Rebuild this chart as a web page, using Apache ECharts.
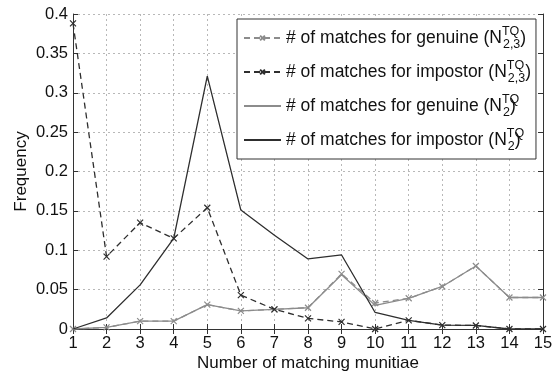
<!DOCTYPE html>
<html><head><meta charset="utf-8">
<script src="https://cdn.jsdelivr.net/npm/echarts@6/dist/echarts.min.js"></script>
<style>html,body{margin:0;padding:0;background:#fff}#c{width:552px;height:371px}</style>
</head><body><div id="c"></div>
<script>
var matches = [1,2,3,4,5,6,7,8,9,10,11,12,13,14,15];
var genuineN23 = [0.0,0.002,0.010,0.010,0.031,0.023,0.025,0.027,0.070,0.033,0.039,0.054,0.080,0.040,0.040];
var impostorN23 = [0.388,0.092,0.135,0.115,0.154,0.043,0.025,0.0135,0.009,0.0,0.011,0.005,0.0045,0.0,0.0];
var genuineN2 = [0.0,0.002,0.010,0.010,0.031,0.023,0.025,0.027,0.069,0.030,0.039,0.054,0.080,0.040,0.040];
var impostorN2 = [0.0,0.014,0.056,0.115,0.321,0.151,0.119,0.089,0.094,0.021,0.011,0.005,0.0045,0.0,0.0];
var seriesNames = ['# of matches for genuine (N2,3 TQ)','# of matches for impostor (N2,3 TQ)','# of matches for genuine (N2 TQ)','# of matches for impostor (N2 TQ)'];
var legendMain = ['# of matches for genuine (N','# of matches for impostor (N','# of matches for genuine (N','# of matches for impostor (N'];
var legendSub = ['2,3','2,3','2','2'];
var legendSup = 'TQ';

var DARK = '#2e2e2e', GRAY = '#8c8c8c';
var FONT = 'Liberation Sans, Arial, sans-serif';
var xMark = 'path://M0,0L10,10M0,10L10,0';
function pairs(v){ return v.map(function(y,i){ return [matches[i], y]; }); }

var chart = echarts.init(document.getElementById('c'), null, {renderer:'canvas'});
var axisLine = {show:true, lineStyle:{color:'#333', width:1}};
chart.setOption({
  animation:false,
  backgroundColor:'#fff',
  grid:{left:73, right:9, top:14, bottom:42, containLabel:false, outerBoundsMode:'none'},
  xAxis:[{
    type:'value', min:1, max:15, interval:1,
    axisLine:axisLine, axisTick:{show:true, inside:true, length:5, lineStyle:{color:'#333'}},
    axisLabel:{color:'#111', fontSize:16.5, fontFamily:FONT, margin:6},
    splitLine:{show:true, lineStyle:{color:'#b8b8b8', type:[2,3], width:1}},
    name:'Number of matching munitiae', nameLocation:'middle', nameGap:26, nameMoveOverlap:false,
    nameTextStyle:{color:'#111', fontSize:17, fontFamily:FONT}
  },{
    type:'value', min:1, max:15, interval:1, position:'top',
    axisLine:axisLine, axisTick:{show:true, inside:true, length:5, lineStyle:{color:'#333'}},
    axisLabel:{show:false}, splitLine:{show:false}
  }],
  yAxis:[{
    type:'value', min:0, max:0.4, interval:0.05,
    axisLine:axisLine, axisTick:{show:true, inside:true, length:5, lineStyle:{color:'#333'}},
    axisLabel:{color:'#111', fontSize:16.5, fontFamily:FONT, margin:5},
    splitLine:{show:true, lineStyle:{color:'#b8b8b8', type:[2,3], width:1}},
    name:'Frequency', nameLocation:'middle', nameGap:43, nameRotate:90, nameMoveOverlap:false,
    nameTextStyle:{color:'#111', fontSize:17, fontFamily:FONT}
  },{
    type:'value', min:0, max:0.4, interval:0.05, position:'right',
    axisLine:axisLine, axisTick:{show:true, inside:true, length:5, lineStyle:{color:'#333'}},
    axisLabel:{show:false}, splitLine:{show:false}
  }],
  legend:{
    orient:'vertical', left:237, top:19,
    padding:[6,5,6,6], itemGap:8, itemWidth:37, itemHeight:6,
    borderColor:'#333', borderWidth:1, backgroundColor:'#fff',
    data:[
      {name:seriesNames[0]},
      {name:seriesNames[1]},
      {name:seriesNames[2], itemStyle:{color:'transparent', borderWidth:0}},
      {name:seriesNames[3], itemStyle:{color:'transparent', borderWidth:0}}
    ],
    formatter:function(name){
      var i = seriesNames.indexOf(name);
      return '{m|' + legendMain[i] + '}{sup|' + legendSup + '}{sub|' + legendSub[i] + '}{m|)}';
    },
    textStyle:{
      color:'#111', fontFamily:FONT, fontSize:17.5,
      rich:{
        m:{fontSize:17.5, fontFamily:FONT, color:'#111', lineHeight:26, verticalAlign:'middle'},
        sup:{fontSize:12.5, fontFamily:FONT, color:'#111', lineHeight:13, verticalAlign:'top', width:1},
        sub:{fontSize:12.5, fontFamily:FONT, color:'#111', lineHeight:13, verticalAlign:'bottom'}
      }
    }
  },
  series:[
    {name:seriesNames[0], type:'line', data:pairs(genuineN23), symbol:xMark, symbolSize:6, showSymbol:true,
     lineStyle:{color:GRAY, width:1.3, type:[6,4]}, itemStyle:{color:'transparent', borderColor:GRAY, borderWidth:1.2}, z:2},
    {name:seriesNames[1], type:'line', data:pairs(impostorN23), symbol:xMark, symbolSize:6, showSymbol:true,
     lineStyle:{color:DARK, width:1.3, type:[6,4]}, itemStyle:{color:'transparent', borderColor:DARK, borderWidth:1.2}, z:3},
    {name:seriesNames[2], type:'line', data:pairs(genuineN2), symbol:'circle', symbolSize:2, showSymbol:true,
     lineStyle:{color:GRAY, width:1.3}, itemStyle:{color:GRAY}, z:2},
    {name:seriesNames[3], type:'line', data:pairs(impostorN2), symbol:'none', showSymbol:false,
     lineStyle:{color:DARK, width:1.3}, itemStyle:{color:DARK}, z:3}
  ]
});
</script></body></html>
